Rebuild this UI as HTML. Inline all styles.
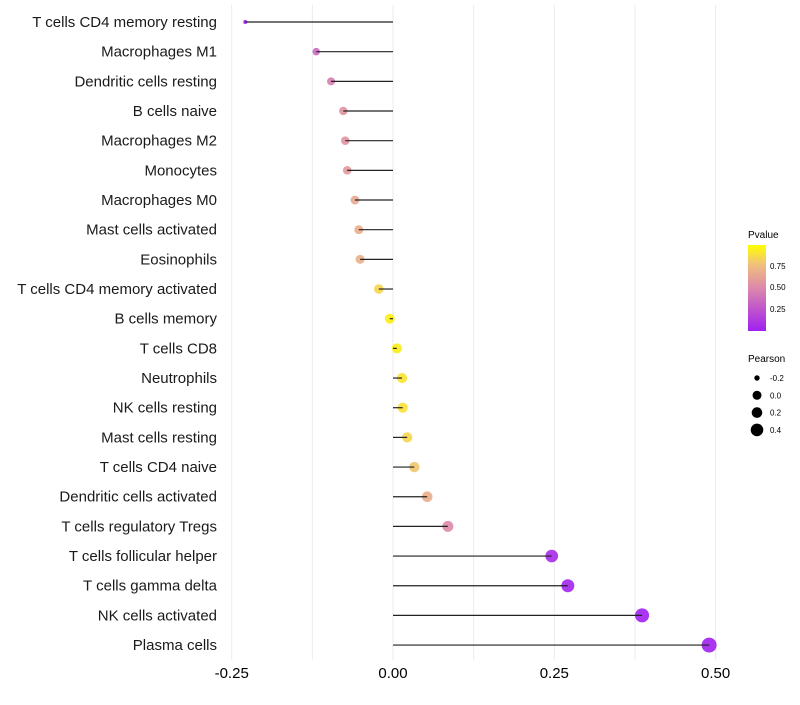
<!DOCTYPE html>
<html><head><meta charset="utf-8"><style>
body{margin:0;background:#fff;font-family:"Liberation Sans",sans-serif;}
</style></head><body>
<svg id="chart" width="800" height="700" xmlns="http://www.w3.org/2000/svg" style="font-family:'Liberation Sans',sans-serif">
<defs><linearGradient id="pg" x1="0" y1="1" x2="0" y2="0">
<stop offset="0" stop-color="#a020f0"/><stop offset="0.5" stop-color="#dd88aa"/><stop offset="0.78" stop-color="#f0c27a"/><stop offset="1" stop-color="#ffff00"/></linearGradient></defs>
<g id="grid"></g>
<g id="dots"></g>
<g id="marks"></g>
<g id="labels"></g>
<g id="xt"></g>
<g>
<text x="748" y="238" font-size="10">Pvalue</text>
<rect x="748" y="245" width="18" height="86" fill="url(#pg)"/>
<text x="770" y="269" font-size="8">0.75</text>
<text x="770" y="290" font-size="8">0.50</text>
<text x="770" y="312" font-size="8">0.25</text>
</g>
<g id="sleg">
<text x="748" y="362" font-size="10">Pearson</text>
</g>
</svg>
<script>
const categories=["T cells CD4 memory resting","Macrophages M1","Dendritic cells resting","B cells naive","Macrophages M2","Monocytes","Macrophages M0","Mast cells activated","Eosinophils","T cells CD4 memory activated","B cells memory","T cells CD8","Neutrophils","NK cells resting","Mast cells resting","T cells CD4 naive","Dendritic cells activated","T cells regulatory  Tregs ","T cells follicular helper","T cells gamma delta","NK cells activated","Plasma cells"];
const pearson=[-0.229,-0.119,-0.096,-0.077,-0.074,-0.071,-0.059,-0.053,-0.051,-0.022,-0.005,0.006,0.014,0.015,0.022,0.033,0.053,0.085,0.246,0.271,0.386,0.49];
const pvalue=[0.0,0.35,0.45,0.55,0.56,0.58,0.65,0.68,0.69,0.86,0.97,0.96,0.92,0.91,0.86,0.8,0.68,0.5,0.05,0.03,0.002,0.0001];
const xTicks=[-0.25,0,0.25,0.5];
const xTickLabels=["-0.25","0.00","0.25","0.50"];
const sizeLegend=[-0.2,0,0.2,0.4];
const NS="http://www.w3.org/2000/svg";
const x=v=>393+v*645.2;
const y=i=>22+i*29.67;
const r=v=>Math.sqrt(Math.max(4,v<0?25+91.7*v:25+63*v));
function col(p){const st=[[0,[160,32,240]],[0.5,[221,136,170]],[0.78,[240,194,122]],[1,[255,245,0]]];
 for(let k=1;k<st.length;k++){if(p<=st[k][0]){const a=st[k-1],b=st[k],t=(p-a[0])/(b[0]-a[0]);return `rgb(${a[1].map((c,j)=>Math.round(c+(b[1][j]-c)*t)).join(",")})`;}}return "rgb(255,245,0)";}
function mk(t,a,parent){const e=document.createElementNS(NS,t);for(const k in a)e.setAttribute(k,a[k]);document.getElementById(parent).appendChild(e);return e;}
for(let v=-0.25;v<=0.5001;v+=0.125){const g=mk("line",{x1:x(v),x2:x(v),y1:5,y2:660,stroke:"#ebebeb","stroke-width":1},"grid");

}
xTicks.forEach((v,i)=>{const t=mk("text",{x:x(v),y:678,"font-size":15,"text-anchor":"middle",fill:"#000"},"xt");t.textContent=xTickLabels[i];

});
categories.forEach((c,i)=>{
 const t=mk("text",{x:217,y:y(i)+5,"font-size":15,"text-anchor":"end",fill:"#1a1a1a"},"labels");t.textContent=c;
 
 
 const d=mk("circle",{cx:x(pearson[i]),cy:y(i),r:r(pearson[i]),fill:col(pvalue[i]),"fill-opacity":0.9},"dots");
 
 
 const l=mk("line",{x1:x(0),x2:x(pearson[i]),y1:y(i),y2:y(i),stroke:"#222","stroke-width":1.2},"marks");
 
 
});
sizeLegend.forEach((v,i)=>{const cy=378+i*17.3;
 const d=mk("circle",{cx:757,cy:cy,r:[2.7,4.5,5.3,6.3][i],fill:"#000"},"sleg");
 
 
 const t=mk("text",{x:770,y:cy+3,"font-size":8},"sleg");t.textContent=v.toFixed(1).replace("-0.0","0.0");
 
 });
</script>
</body></html>
